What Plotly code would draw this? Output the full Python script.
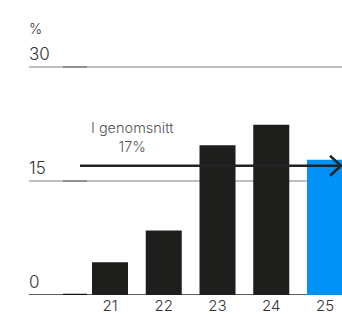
import plotly.graph_objects as go

# Data
categories = ["21", "22", "23", "24", "25"]
values = [4.3, 8.5, 19.7, 22.4, 17.8]
bar_colors = ["#1e1e1c", "#1e1e1c", "#1e1e1c", "#1e1e1c", "#0092f7"]
avg_value = 17
avg_label = "I genomsnitt<br>17%"
y_ticks = [0, 15, 30]
y_tick_labels = ["0", "15", "30"]
unit_label = "%"

FONT = "Inter"

fig = go.Figure()
fig.add_trace(go.Bar(
    x=categories, y=values, marker=dict(color=bar_colors, line=dict(width=0)),
    width=0.67, hoverinfo="skip",
))

shapes = []
# gridlines
for v in y_ticks:
    col = "#2a2a2a" if v == 0 else "#a8a8a8"
    shapes.append(dict(type="line", xref="paper", yref="y", x0=0, x1=1, y0=v, y1=v,
                       line=dict(color=col, width=1.5), layer="below"))
    # darker segment
    shapes.append(dict(type="line", xref="paper", yref="y", x0=0.1086, x1=0.1853, y0=v, y1=v,
                       line=dict(color="#111111" if v == 0 else "#808080", width=2.5 if v == 0 else 1.5),
                       layer="below"))

# average arrow
px_per_unit = 7.6
head_dy = 10 / px_per_unit
shapes.append(dict(type="line", xref="paper", yref="y", x0=(80 - 29) / 313, x1=(341 - 29) / 313,
                   y0=avg_value, y1=avg_value, line=dict(color="#222222", width=2.5), layer="above"))
x_tip = (341 - 29) / 313
x_back = (330 - 29) / 313
shapes.append(dict(type="path", xref="paper", yref="y",
                   path=f"M {x_back} {avg_value + head_dy} L {x_tip} {avg_value} L {x_back} {avg_value - head_dy}",
                   line=dict(color="#222222", width=2.5), layer="above"))

annotations = []
for v, t in zip(y_ticks, y_tick_labels):
    annotations.append(dict(x=0, xref="paper", y=v, yref="y", text=t, showarrow=False,
                            xanchor="left", yanchor="bottom", yshift=1, xshift=-2,
                            font=dict(family=FONT, size=17, color="#333333", weight=300)))
annotations.append(dict(x=0, xref="paper", y=1, yref="paper", text=unit_label, showarrow=False,
                        xanchor="left", yanchor="bottom", yshift=1, xshift=-2,
                        font=dict(family=FONT, size=14, color="#333333", weight=300)))
annotations.append(dict(x=(132 - 29) / 313, xref="paper", y=avg_value, yref="y", text=avg_label,
                        showarrow=False, xanchor="center", yanchor="bottom", yshift=9,
                        font=dict(family=FONT, size=14.5, color="#555555", weight=300)))

fig.update_layout(
    width=342, height=314,
    margin=dict(l=29, r=0, t=40, b=19),
    plot_bgcolor="white", paper_bgcolor="white",
    showlegend=False,
    bargap=0.33,
    shapes=shapes, annotations=annotations,
    xaxis=dict(type="category", range=[-1.507, 4.316], showgrid=False, zeroline=False,
               showline=False, ticks="", ticklabelstandoff=0, automargin=False,
               tickfont=dict(family=FONT, size=15, color="#333333", weight=300),
               fixedrange=True),
    yaxis=dict(range=[0, 33.55], showgrid=False, zeroline=False, showline=False,
               showticklabels=False, fixedrange=True, automargin=False),
)

fig.write_html("out.html", config={"displayModeBar": False})

# remove default page margin so the figure sits at the window's top-left corner
with open("out.html", encoding="utf-8") as f:
    html = f.read()
html = html.replace("<head>", "<head><style>html,body{margin:0;padding:0;overflow:hidden;}</style>", 1)
with open("out.html", "w", encoding="utf-8") as f:
    f.write(html)
